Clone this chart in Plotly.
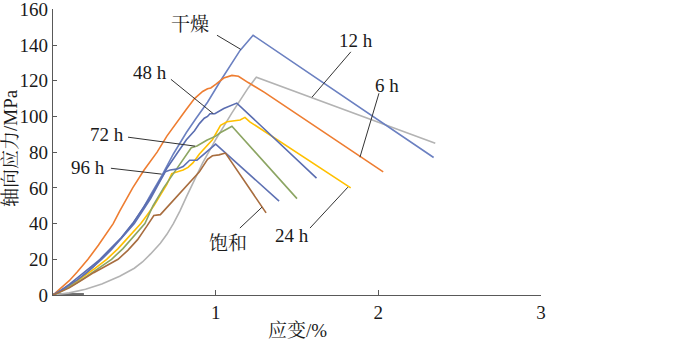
import plotly.graph_objects as go

# ---- data (strain %, axial stress MPa) ----
dry_x = [0, 0.05, 0.1, 0.15, 0.2, 0.25, 0.29, 0.35, 0.42, 0.49, 0.55, 0.6, 0.67, 0.74, 0.82, 0.88, 0.95, 1.03, 1.11, 1.15, 1.23, 2.34]
dry_y = [0, 2.5, 5, 8, 12, 16, 20, 25.5, 32, 40, 48, 56, 67, 79, 91, 99, 108, 120, 131, 137, 145.5, 77]

h6_x = [0, 0.05, 0.1, 0.15, 0.215, 0.28, 0.33, 0.37, 0.41, 0.49, 0.56, 0.64, 0.7, 0.77, 0.82, 0.87, 0.92, 0.95, 0.97, 1.0, 1.05, 1.1, 1.14, 1.2, 1.3, 2.03]
h6_y = [0, 4, 8, 13, 20, 28, 34.5, 40, 47, 60, 70, 80, 89, 98, 104, 110, 114, 115.5, 116, 118, 121.5, 123, 122.5, 119, 113.5, 69]

h12_x = [0, 0.1, 0.2, 0.3, 0.41, 0.5, 0.55, 0.6, 0.66, 0.7, 0.74, 0.78, 0.82, 0.87, 0.92, 1.0, 1.1, 1.2, 1.25, 2.35]
h12_y = [0, 1.2, 3.2, 6.2, 10.5, 15, 18.5, 23, 29, 34, 40, 47, 55, 65, 74, 87, 102, 116, 122, 85]

h24_x = [0, 0.05, 0.1, 0.15, 0.2, 0.26, 0.33, 0.4, 0.45, 0.5, 0.54, 0.58, 0.62, 0.66, 0.7, 0.73, 0.76, 0.8, 0.83, 0.86, 0.9, 0.94, 0.98, 1.03, 1.07, 1.15, 1.18, 1.21, 1.83]
h24_y = [0, 2.3, 5, 8, 11, 15, 20, 26, 31, 36, 40, 45, 50, 56, 62, 68, 69, 70, 71.5, 74, 79, 83, 87, 95, 97, 98, 99.5, 97, 60]

h48_x = [0, 0.05, 0.1, 0.15, 0.2, 0.25, 0.29, 0.35, 0.42, 0.49, 0.55, 0.6, 0.65, 0.7, 0.76, 0.82, 0.87, 0.9, 0.93, 0.95, 0.965, 0.995, 1.05, 1.1, 1.13, 1.62]
h48_y = [0, 2.7, 6, 9.5, 13, 17, 20, 25.5, 32, 40, 48, 55, 63, 71, 79, 87, 92, 96, 99, 100, 101.5, 101.5, 104.5, 106.5, 107.5, 65.5]

h72_x = [0, 0.05, 0.1, 0.15, 0.2, 0.28, 0.36, 0.43, 0.5, 0.565, 0.615, 0.68, 0.74, 0.8, 0.85, 0.885, 0.945, 1.0, 1.03, 1.07, 1.1, 1.5]
h72_y = [0, 2, 4.5, 7, 10, 15, 20, 26, 33, 40, 50, 60, 68, 76, 82.5, 83.5, 86.7, 89, 91, 93, 94.5, 54]

h96_x = [0, 0.05, 0.1, 0.15, 0.2, 0.25, 0.3, 0.36, 0.43, 0.5, 0.55, 0.6, 0.66, 0.69, 0.72, 0.76, 0.8, 0.84, 0.885, 0.93, 1.0, 1.39]
h96_y = [0, 2.5, 5.5, 8.5, 12, 16, 20, 25.5, 32.5, 40, 47, 54, 64, 69, 70, 70.5, 72, 75.5, 75.5, 79, 84.5, 52.6]

sat_x = [0, 0.05, 0.1, 0.18, 0.25, 0.32, 0.4, 0.46, 0.52, 0.58, 0.62, 0.66, 0.7, 0.74, 0.79, 0.84, 0.9, 0.95, 0.98, 1.02, 1.06, 1.31]
sat_y = [0, 1.8, 4, 8.5, 12.5, 16, 20, 25, 31, 39, 44.5, 45, 49, 53, 57.5, 62.6, 69, 76, 78, 78.5, 79.5, 46]

base_x = [0, 0.19]
base_y = [0.4, 0.4]

series = [
    ("12 h", h12_x, h12_y, "#B3B3B3"),
    ("干燥", dry_x, dry_y, "#6B80C1"),
    ("6 h", h6_x, h6_y, "#EE7D31"),
    ("24 h", h24_x, h24_y, "#FFC000"),
    ("48 h", h48_x, h48_y, "#5A6DB0"),
    ("72 h", h72_x, h72_y, "#8CA563"),
    ("96 h", h96_x, h96_y, "#5E71B3"),
    ("饱和", sat_x, sat_y, "#A86D3F"),
]

# label text, text position, leader start, leader end (data coords)
labels = [
    ("干燥", (0.842, 151.6), (1.008, 145.5), (1.154, 137.6)),
    ("12 h", (1.862, 142.7), (1.831, 136.2), (1.592, 110.8)),
    ("6 h", (2.053, 117.5), (2.004, 113.0), (1.887, 77.2)),
    ("48 h", (0.596, 124.8), (0.725, 120.8), (0.985, 101.6)),
    ("72 h", (0.332, 90.1), (0.461, 88.4), (0.873, 83.4)),
    ("96 h", (0.215, 71.6), (0.356, 71.0), (0.668, 67.7)),
    ("24 h", (1.469, 33.6), (1.58, 37.5), (1.813, 60.4)),
    ("饱和", (1.076, 29.1), (1.149, 37.5), (1.285, 49.2)),
]

FONT = "Times New Roman, Liberation Serif, Noto Serif CJK SC, Noto Sans CJK SC, serif"
AX = "#595959"
TXT = "#1a1a1a"
FS = 19

fig = go.Figure()
fig.add_trace(go.Scatter(x=base_x, y=base_y, mode="lines",
                         line=dict(color="#6E6E6E", width=2.5), showlegend=False,
                         hoverinfo="skip"))
for name, xs, ys, col in series:
    fig.add_trace(go.Scatter(x=xs, y=ys, mode="lines", name=name,
                             line=dict(color=col, width=1.6), showlegend=False))

for text, tpos, s, e in labels:
    fig.add_shape(type="line", xref="x", yref="y", x0=s[0], y0=s[1], x1=e[0], y1=e[1],
                  line=dict(color="#333333", width=1))
    fig.add_annotation(x=tpos[0], y=tpos[1], xref="x", yref="y", text=text,
                       showarrow=False, font=dict(family=FONT, size=FS, color=TXT),
                       xanchor="center", yanchor="middle")

fig.add_annotation(x=-0.086, y=0.514, xref="paper", yref="paper", text="轴向应力/MPa",
                   textangle=-90, showarrow=False,
                   font=dict(family=FONT, size=FS, color=TXT),
                   xanchor="center", yanchor="middle")
fig.add_annotation(x=0.5, y=-0.124, xref="paper", yref="paper", text="应变/%",
                   showarrow=False, font=dict(family=FONT, size=FS, color=TXT),
                   xanchor="center", yanchor="middle")

fig.update_layout(
    width=700, height=342,
    margin=dict(l=53, r=159, t=9, b=47, autoexpand=False),
    paper_bgcolor="white", plot_bgcolor="white",
    font=dict(family=FONT, size=FS, color=TXT),
    showlegend=False,
)
fig.update_xaxes(range=[0, 3], tickvals=[1, 2, 3], ticktext=["1", "2", "3"],
                 showgrid=False, zeroline=False, showline=True, linecolor=AX, linewidth=1.3,
                 ticks="inside", ticklen=5, tickcolor=AX, tickwidth=1.2,
                 ticklabeloverflow="allow", automargin=False,
                 tickfont=dict(family=FONT, size=FS, color=TXT))
fig.update_yaxes(range=[0, 160.2], tickvals=[0, 20, 40, 60, 80, 100, 120, 140, 160],
                 ticktext=["0", "20", "40", "60", "80", "100", "120", "140", "160"],
                 showgrid=False, zeroline=False, showline=True, linecolor=AX, linewidth=1.3,
                 ticks="inside", ticklen=4, tickcolor=AX, tickwidth=1.2,
                 ticklabeloverflow="allow", automargin=False,
                 tickfont=dict(family=FONT, size=FS, color=TXT))

fig.write_html("out.html")
